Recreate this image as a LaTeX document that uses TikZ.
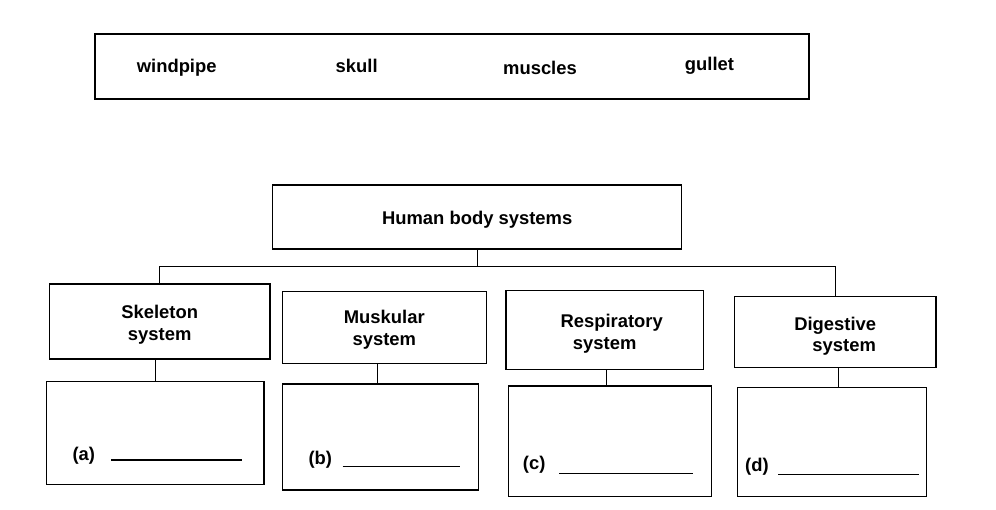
\documentclass[tikz,border=0pt]{standalone}
\usepackage{fontspec}
\setmainfont{Liberation Sans}
\begin{document}
\begin{tikzpicture}[x=1pt,y=-1pt,
  every node/.style={font=\bfseries\fontsize{18.4}{21.7}\selectfont},
  box/.style={draw,line width=1.3pt,rectangle,inner sep=0pt,align=center},
  boxtext/.style={inner sep=0pt,align=center},
  word/.style={anchor=base,inner sep=0pt},
  lbl/.style={anchor=base west,inner sep=0pt},
  wire/.style={line width=1.3pt},
  blank/.style={line width=1.3pt}]
\useasboundingbox (0,0) rectangle (996,509);
% word bank
\node[box,minimum width=714pt,minimum height=65pt] (bank) at (452,66.5) {};
\node[word] (w1) at (176.7,72.3) {windpipe};
\node[word] (w2) at (356.7,72.3) {skull};
\node[word] (w3) at (540,74.3) {muscles};
\node[word] (w4) at (709.5,70.7) {gullet};
% tree
\node[box,minimum width=409pt,minimum height=64pt] (hb) at (477.2,217) {};
\node[boxtext] (hbt) at ([yshift=-3pt]hb.center) {Human body systems};
\node[box,minimum width=220.7pt,minimum height=75pt] (sk) at (159.7,321.5) {};
\node[boxtext] (skt) at ([yshift=-3pt]sk.center) {Skeleton\\system};
\node[box,minimum width=204pt,minimum height=71.6pt] (mk) at (384.3,327.5) {};
\node[boxtext] (mkt) at ([yshift=-2pt]mk.center) {Muskular\\system};
\node[box,minimum width=197.3pt,minimum height=78.6pt] (rs) at (604.7,330) {};
\node[boxtext] (rst) at ([yshift=-4pt]rs.center) {\hspace*{14pt}Respiratory\\system};
\node[box,minimum width=201.7pt,minimum height=71pt] (dg) at (835.2,332.2) {};
\node[boxtext] (dgt) at ([yshift=-4pt]dg.center) {Digestive\\\hspace*{18pt}system};
\node[box,minimum width=217.3pt,minimum height=102.6pt] (aA) at (155.3,433) {};
\node[box,minimum width=196pt,minimum height=106pt] (aB) at (380.3,437) {};
\node[box,minimum width=203.4pt,minimum height=110.7pt] (aC) at (610,441.3) {};
\node[box,minimum width=189.4pt,minimum height=109.4pt] (aD) at (832,442) {};
\coordinate (bus) at (0,266.5);
\draw[wire] (hb.south) -- (hb.south |- bus);
\draw[wire] (sk.north) |- (bus -| dg.north) -- (dg.north);
\draw[wire] ([xshift=-4.4pt]sk.south) -- ([xshift=-4.4pt]sk.south |- aA.north);
\draw[wire] ([xshift=-7pt]mk.south) -- ([xshift=-7pt]mk.south |- aB.north);
\draw[wire] ([xshift=2pt]rs.south) -- ([xshift=2pt]rs.south |- aC.north);
\draw[wire] ([xshift=3.3pt]dg.south) -- ([xshift=3.3pt]dg.south |- aD.north);
% answer labels and blanks
\node[lbl] (la) at (72.3,460.5) {(a)};
\draw[blank] (111,460) -- (241.7,460);
\node[lbl] (lb) at (308.3,464.8) {(b)};
\draw[blank] (342.7,466.7) -- (460,466.7);
\node[lbl] (lc) at (522.7,469.8) {(c)};
\draw[blank] (559.3,473.3) -- (692.7,473.3);
\node[lbl] (ld) at (745,471.5) {(d)};
\draw[blank] (778.3,474.5) -- (919.3,474.5);
\end{tikzpicture}
\end{document}
